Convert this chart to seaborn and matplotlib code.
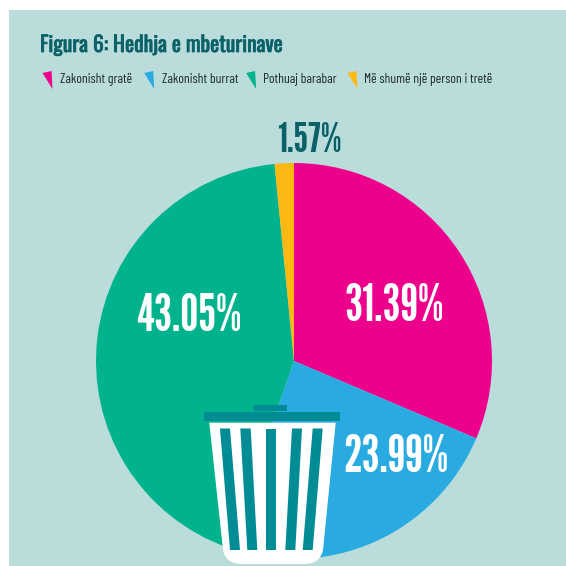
import matplotlib
matplotlib.use('Agg')
import matplotlib.pyplot as plt
import matplotlib.patheffects as pe
from matplotlib.patches import Polygon, PathPatch, Rectangle
from matplotlib.path import Path
import seaborn as sns

categories = ['Zakonisht gratë', 'Zakonisht burrat', 'Pothuaj barabar', 'Më shumë një person i tretë']
values = [31.39, 23.99, 43.05, 1.57]
value_labels = ['31.39%', '23.99%', '43.05%', '1.57%']

colors = ['#EC008C', '#29ABE2', '#00B38C', '#FDB913']
bg = '#BADDDC'
dark = '#0B6168'
teal = '#008C95'

sns.set_theme(style='white')
plt.rcParams['font.family'] = ['Barlow Condensed', 'Roboto Condensed', 'DejaVu Sans']
title_font = ['Oswald', 'Barlow Condensed', 'DejaVu Sans']
value_font = ['League Gothic', 'Oswald', 'DejaVu Sans']

fig = plt.figure(figsize=(5.66, 5.66), dpi=100, facecolor='white')
ax = fig.add_axes([0, 0, 1, 1])


# page coordinates are measured from the top
def Y(y):
    return 566 - y


ax.add_patch(Rectangle((9, 0), 557, Y(10), fc=bg, ec='none', zorder=0))

ax.pie(values, colors=colors, startangle=90, counterclock=False,
       center=(294, Y(361)), radius=198, frame=True,
       wedgeprops={'linewidth': 0, 'zorder': 1})
ax.set_xlim(0, 566)
ax.set_ylim(0, 566)
ax.set_aspect('equal')
ax.axis('off')

# title
ax.text(40, Y(45), 'Figura 6: Hedhja e mbeturinave', fontsize=15.5, family=title_font,
        color=dark, va='center', ha='left',
        path_effects=[pe.withStroke(linewidth=0.5, foreground=dark)])

# legend
marker_x = [0, 101.7, 203.6, 305]
text_x = [60, 161.5, 263, 364]
for c, name, mx, tx in zip(colors, categories, marker_x, text_x):
    ax.add_patch(Polygon([(42.5 + mx, Y(73)), (51.5 + mx, Y(71)), (52.5 + mx, Y(89))], fc=c, ec='none'))
    ax.text(tx, Y(79.5), name, fontsize=9.8, color='#1c2b2e', va='center', ha='left')

# value labels
label_pos = [(394, 307), (396, 458), (189, 317), (309, 141)]
label_size = [37, 37, 37, 30]
label_col = ['white', 'white', 'white', dark]
for txt, (x, y), s, c in zip(value_labels, label_pos, label_size, label_col):
    ax.text(x, Y(y), txt, fontsize=s, family=value_font, color=c, ha='center', va='center', zorder=6)

# trash can
verts = [(209.3, Y(422.7)), (335.7, Y(422.7)), (323.5, Y(545)),
         (323, Y(564)), (304, Y(564)), (242, Y(564)),
         (223, Y(564)), (222.5, Y(545)), (209.3, Y(422.7))]
codes = [Path.MOVETO, Path.LINETO, Path.LINETO, Path.CURVE3, Path.CURVE3,
         Path.LINETO, Path.CURVE3, Path.CURVE3, Path.CLOSEPOLY]
ax.add_patch(PathPatch(Path(verts, codes), fc='white', ec='none', zorder=3))
ax.add_patch(Rectangle((204, Y(421)), 136, 9, fc=teal, ec='none', zorder=4))
ax.add_patch(Rectangle((254, Y(411)), 33, 6, fc=teal, ec='none', zorder=4))
stripes = [(220, 230, 230, 240), (240.3, 250.7, 247.3, 257.3), (266, 276, 266, 276),
           (292, 302, 285.3, 295.3), (312.7, 322.7, 302.7, 312.7)]
for tl, tr, bl, br in stripes:
    ax.add_patch(Polygon([(tl, Y(428.5)), (tr, Y(428.5)), (br, Y(550)), (bl, Y(550))],
                         fc=teal, ec='none', zorder=4))

plt.savefig('out.png', dpi=100)
